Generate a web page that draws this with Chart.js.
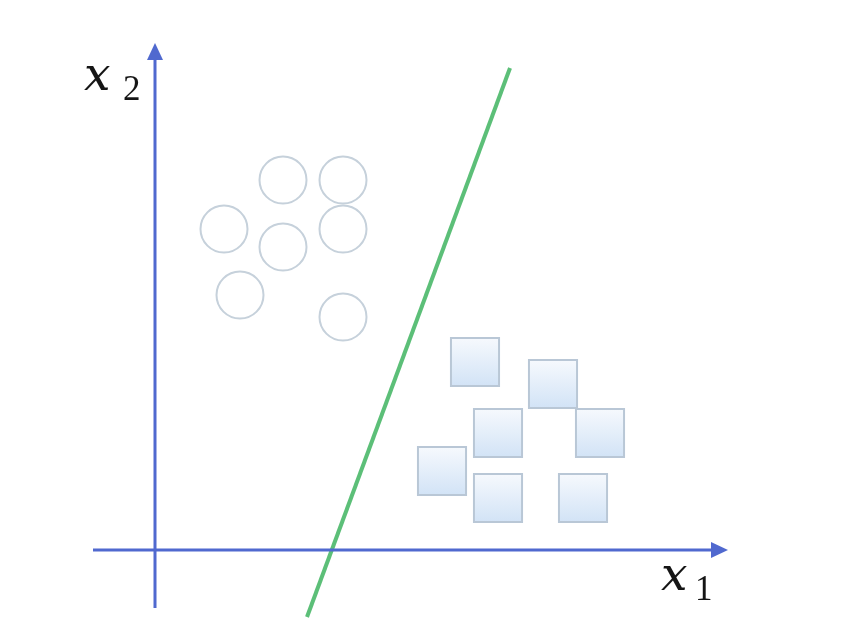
<!DOCTYPE html>
<html>
<head>
<meta charset="utf-8">
<script src="https://cdn.jsdelivr.net/npm/chart.js@4/dist/chart.umd.min.js"></script>
<style>
html,body{margin:0;padding:0;background:#ffffff;}
#wrap{width:847px;height:634px;}
</style>
</head>
<body>
<div id="wrap"><canvas id="c" width="847" height="634"></canvas></div>
<script>
// Class A (circles)
const circlesX = [12.8, 18.8, 6.9, 12.8, 18.8, 8.5, 18.8];
const circlesY = [37.0, 37.0, 32.1, 30.3, 32.1, 25.5, 23.3];
// Class B (squares)
const squaresX = [32.0, 39.8, 34.3, 44.5, 28.7, 34.3, 42.8];
const squaresY = [18.8, 16.6, 11.7, 11.7, 7.9, 5.2, 5.2];
// Decision boundary end points
const boundaryX = [35.5, 15.2];
const boundaryY = [48.2, -6.7];
// Axis extents (data units)
const xAxisRange = [-6.2, 57.3];
const yAxisRange = [-5.8, 50.7];
// Axis names
const axisNames = ['x', 'x'];
const axisSubs = ['1', '2'];

const toPts = (xs, ys) => xs.map((x, i) => ({x: x, y: ys[i]}));

const axesPlugin = {
  id: 'axesArrows',
  afterDatasetsDraw(chart) {
    const c = chart.ctx, sx = chart.scales.x, sy = chart.scales.y;
    const ox = sx.getPixelForValue(0), oy = sy.getPixelForValue(0);
    const blue = '#5069cf';
    c.save();
    c.strokeStyle = blue; c.fillStyle = blue; c.lineWidth = 3;
    // x axis
    const xl = sx.getPixelForValue(xAxisRange[0]), xr = sx.getPixelForValue(xAxisRange[1]);
    c.beginPath(); c.moveTo(xl, oy); c.lineTo(xr - 12, oy); c.stroke();
    c.beginPath(); c.moveTo(xr, oy); c.lineTo(xr - 17, oy - 8); c.lineTo(xr - 17, oy + 8); c.closePath(); c.fill();
    // y axis
    const yb = sy.getPixelForValue(yAxisRange[0]), yt = sy.getPixelForValue(yAxisRange[1]);
    c.beginPath(); c.moveTo(ox, yb); c.lineTo(ox, yt + 12); c.stroke();
    c.beginPath(); c.moveTo(ox, yt); c.lineTo(ox - 8, yt + 17); c.lineTo(ox + 8, yt + 17); c.closePath(); c.fill();
    // labels
    c.fillStyle = '#151515';
    c.textBaseline = 'alphabetic';
    c.textAlign = 'left';
    const xFont = 'italic 47px "DejaVu Serif", "Liberation Serif", serif';
    const subFont = '35px "Liberation Serif", "DejaVu Serif", serif';
    // x1
    c.font = xFont;
    c.fillText(axisNames[0], sx.getPixelForValue(50.6), sy.getPixelForValue(-4.0));
    c.font = subFont;
    c.fillText(axisSubs[0], sx.getPixelForValue(54.0), sy.getPixelForValue(-5.0));
    // x2
    c.font = xFont;
    c.fillText(axisNames[1], sx.getPixelForValue(-7.1), sy.getPixelForValue(46.0));
    c.font = subFont;
    c.fillText(axisSubs[1], sx.getPixelForValue(-3.2), sy.getPixelForValue(45.0));
    c.restore();
  }
};

function squareFill(ctx) {
  const chart = ctx.chart;
  if (!chart.scales || !chart.scales.y || !ctx.raw) return '#e3eefa';
  const py = chart.scales.y.getPixelForValue(ctx.raw.y);
  if (!isFinite(py)) return '#e3eefa';
  const g = chart.ctx.createLinearGradient(0, py - 24, 0, py + 24);
  g.addColorStop(0, '#f6f9fd');
  g.addColorStop(1, '#d2e3f6');
  return g;
}

new Chart(document.getElementById('c'), {
  type: 'scatter',
  data: {
    datasets: [
      {
        label: 'boundary', type: 'line', data: toPts(boundaryX, boundaryY),
        borderColor: '#5cbf78', borderWidth: 4, pointRadius: 0, showLine: true, fill: false, order: 1
      },
      {
        label: 'circles', data: toPts(circlesX, circlesY), pointStyle: 'circle',
        pointRadius: 23.5, pointHoverRadius: 23.5, backgroundColor: 'rgba(255,255,255,0)',
        borderColor: '#c6d1db', borderWidth: 2, order: 2
      },
      {
        label: 'squares', data: toPts(squaresX, squaresY), pointStyle: 'rect',
        pointRadius: 34, pointHoverRadius: 34, backgroundColor: squareFill,
        borderColor: '#b9c7d6', borderWidth: 2, order: 3
      }
    ]
  },
  options: {
    responsive: false,
    animation: false,
    events: [],
    layout: {padding: 0, autoPadding: false},
    plugins: {legend: {display: false}, tooltip: {enabled: false}},
    scales: {
      x: {type: 'linear', min: -15.5, max: 69.2, display: false},
      y: {type: 'linear', min: -8.4, max: 55.0, display: false}
    }
  },
  plugins: [axesPlugin]
});
</script>
</body>
</html>
